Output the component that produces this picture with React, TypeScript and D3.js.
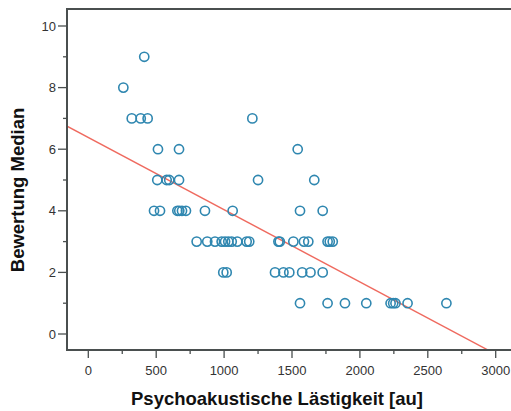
import React, { useEffect, useRef } from "react";
import { select, scaleLinear, line } from "d3";

// Bewertung Median (integer levels) and the Lästigkeit values read at each level
const level9 = [412];
const level8 = [258];
const level7 = [320, 386, 437, 1208];
const level6 = [513, 668, 1542];
const level5 = [508, 577, 596, 668, 1250, 1664];
const level4 = [484, 528, 656, 670, 690, 719, 859, 1063, 1559, 1726];
const level3 = [798, 876, 933, 982, 1007, 1031, 1056, 1097, 1166, 1185, 1400, 1410, 1510, 1588, 1620, 1762, 1778, 1800];
const level2 = [994, 1019, 1375, 1437, 1480, 1575, 1636, 1726];
const level1 = [1559, 1762, 1890, 2047, 2226, 2245, 2262, 2351, 2637];

const levels: [number, number[]][] = [
  [9, level9],
  [8, level8],
  [7, level7],
  [6, level6],
  [5, level5],
  [4, level4],
  [3, level3],
  [2, level2],
  [1, level1],
];

const xTicks = [0, 500, 1000, 1500, 2000, 2500, 3000];
const xMinorTicks = [250, 750, 1250, 1750, 2250, 2750];
const yTicks = [0, 2, 4, 6, 8, 10];
const yMinorTicks = [1, 3, 5, 7, 9];

// fit line
const fitIntercept = 6.38;
const fitSlope = -0.002345;

const xTitle = "Psychoakustische Lästigkeit [au]";
const yTitle = "Bewertung Median";

const W = 511;
const H = 411;

export default function App() {
  const svgRef = useRef<SVGSVGElement | null>(null);

  useEffect(() => {
    const svg = select(svgRef.current);
    svg.selectAll("*").remove();

    const left = 67;
    const top = 9;
    const bottom = 350;
    const right = 513;

    const xScale = scaleLinear().domain([0, 3000]).range([88.3, 495.7]);
    const yScale = scaleLinear().domain([0, 10]).range([334, 26]);

    const points = levels.flatMap(([y, xs]) => xs.map((x) => [x, y]));

    svg
      .append("defs")
      .append("clipPath")
      .attr("id", "plot-clip")
      .append("rect")
      .attr("x", left)
      .attr("y", top)
      .attr("width", right - left)
      .attr("height", bottom - top);

    // regression line
    const xs = [xScale.invert(left), xScale.invert(right)];
    const fitLine = line<number>()
      .x((d) => xScale(d))
      .y((d) => yScale(fitIntercept + fitSlope * d));
    svg
      .append("path")
      .attr("clip-path", "url(#plot-clip)")
      .attr("d", fitLine(xs))
      .attr("fill", "none")
      .attr("stroke", "#ef6a5f")
      .attr("stroke-width", 1.4);

    svg
      .append("g")
      .selectAll("circle")
      .data(points)
      .join("circle")
      .attr("cx", (d) => xScale(d[0]))
      .attr("cy", (d) => yScale(d[1]))
      .attr("r", 4.6)
      .attr("fill", "none")
      .attr("stroke", "#2f87b0")
      .attr("stroke-width", 1.6);

    // frame
    svg
      .append("rect")
      .attr("x", left)
      .attr("y", top)
      .attr("width", right - left)
      .attr("height", bottom - top)
      .attr("fill", "none")
      .attr("stroke", "#4a4f4f")
      .attr("stroke-width", 2);

    const axisColor = "#4a4f4f";

    // y axis ticks
    const yAxis = svg.append("g");
    yAxis
      .selectAll("line.major")
      .data(yTicks)
      .join("line")
      .attr("class", "major")
      .attr("x1", left - 9)
      .attr("x2", left)
      .attr("y1", (d) => yScale(d))
      .attr("y2", (d) => yScale(d))
      .attr("stroke", axisColor)
      .attr("stroke-width", 1.3);
    yAxis
      .selectAll("line.minor")
      .data(yMinorTicks)
      .join("line")
      .attr("class", "minor")
      .attr("x1", left - 4)
      .attr("x2", left)
      .attr("y1", (d) => yScale(d))
      .attr("y2", (d) => yScale(d))
      .attr("stroke", axisColor)
      .attr("stroke-width", 1.3);
    yAxis
      .selectAll("text")
      .data(yTicks)
      .join("text")
      .attr("x", left - 11)
      .attr("y", (d) => yScale(d))
      .attr("dy", "0.35em")
      .attr("text-anchor", "end")
      .attr("font-family", "Liberation Sans, Arial, sans-serif")
      .attr("font-size", 13)
      .attr("fill", "#333")
      .text((d) => d);

    // x axis ticks
    const xAxis = svg.append("g");
    xAxis
      .selectAll("line.major")
      .data(xTicks)
      .join("line")
      .attr("class", "major")
      .attr("x1", (d) => xScale(d))
      .attr("x2", (d) => xScale(d))
      .attr("y1", bottom)
      .attr("y2", bottom + 8)
      .attr("stroke", axisColor)
      .attr("stroke-width", 1.3);
    xAxis
      .selectAll("line.minor")
      .data(xMinorTicks)
      .join("line")
      .attr("class", "minor")
      .attr("x1", (d) => xScale(d))
      .attr("x2", (d) => xScale(d))
      .attr("y1", bottom)
      .attr("y2", bottom + 4)
      .attr("stroke", axisColor)
      .attr("stroke-width", 1.3);
    xAxis
      .selectAll("text")
      .data(xTicks)
      .join("text")
      .attr("x", (d) => xScale(d))
      .attr("y", 370)
      .attr("dy", "0.35em")
      .attr("text-anchor", "middle")
      .attr("font-family", "Liberation Sans, Arial, sans-serif")
      .attr("font-size", 13)
      .attr("fill", "#333")
      .text((d) => d);

    svg
      .append("text")
      .attr("x", 277)
      .attr("y", 405)
      .attr("text-anchor", "middle")
      .attr("font-family", "Liberation Sans, Arial, sans-serif")
      .attr("font-weight", "bold")
      .attr("font-size", 18.5)
      .attr("fill", "#111")
      .text(xTitle);

    svg
      .append("text")
      .attr("transform", `translate(24,${190}) rotate(-90)`)
      .attr("text-anchor", "middle")
      .attr("font-family", "Liberation Sans, Arial, sans-serif")
      .attr("font-weight", "bold")
      .attr("font-size", 18.5)
      .attr("fill", "#111")
      .text(yTitle);
  }, []);

  return (
    <div style={{ position: "absolute", left: 0, top: 0, background: "#fff" }}>
      <svg ref={svgRef} width={W} height={H}></svg>
    </div>
  );
}
